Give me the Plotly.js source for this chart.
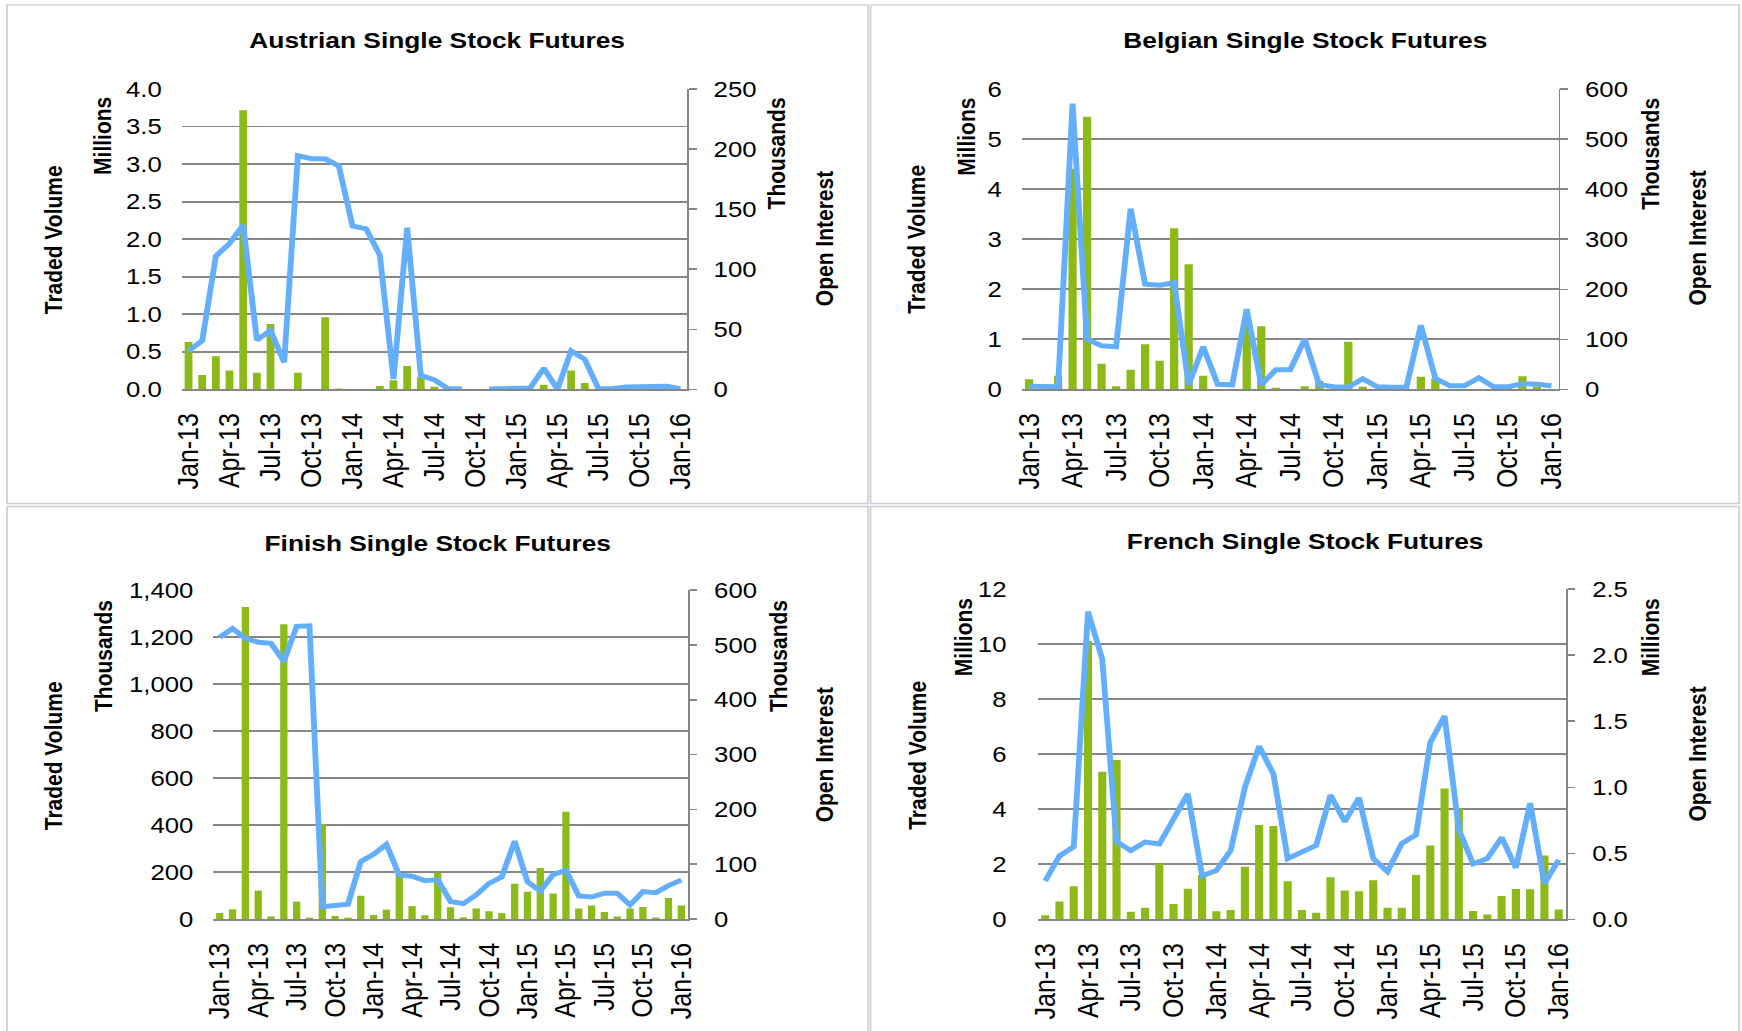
<!DOCTYPE html>
<html><head><meta charset="utf-8">
<script src="https://cdn.plot.ly/plotly-3.0.1.min.js"></script>
<style>
html,body{margin:0;padding:0;background:#fff;overflow:hidden;}
#wrap{width:1742px;height:1031px;overflow:hidden;position:relative;background:#fff;}
#chart{position:absolute;left:0;top:0;transform-origin:0 0;}
</style></head><body>
<div id="wrap"><div id="chart"></div></div>
<script>
// ---- data ----
const months = ['Jan-13','Feb-13','Mar-13','Apr-13','May-13','Jun-13','Jul-13','Aug-13','Sep-13','Oct-13','Nov-13','Dec-13',
  'Jan-14','Feb-14','Mar-14','Apr-14','May-14','Jun-14','Jul-14','Aug-14','Sep-14','Oct-14','Nov-14','Dec-14',
  'Jan-15','Feb-15','Mar-15','Apr-15','May-15','Jun-15','Jul-15','Aug-15','Sep-15','Oct-15','Nov-15','Dec-15','Jan-16'];
const tickLabels = ['Jan-13','Apr-13','Jul-13','Oct-13','Jan-14','Apr-14','Jul-14','Oct-14','Jan-15','Apr-15','Jul-15','Oct-15','Jan-16'];

const panelTitles = ['Austrian Single Stock Futures','Belgian Single Stock Futures','Finish Single Stock Futures','French Single Stock Futures'];

// Austrian: volume in millions, open interest in thousands
const austrianVolume = [0.63,0.19,0.44,0.25,3.72,0.22,0.87,0,0.22,0,0.96,0.01,0,0,0.045,0.12,0.31,0.16,0.035,0,0,0,0,0,0,0,0.06,0,0.25,0.085,0,0,0,0,0,0,0];
const austrianOI = [31.9,40.5,111,121.5,136.8,41,49,22.5,194.5,192,192,186,136,133.7,111.8,8.6,134.5,11.6,7.8,0.5,0.5,null,0.3,0.3,0.5,1,17.5,0,32,25,0.5,0.5,2,2,2.8,2.5,0.5];

// Belgian: volume in millions, open interest in thousands
const belgianVolume = [0.2,0,0.27,4.41,5.45,0.51,0.06,0.39,0.9,0.57,3.22,2.5,0.27,0,0,1.35,1.26,0.03,0,0.06,0.17,0,0.95,0.05,0,0,0,0.25,0.22,0,0,0,0,0.02,0.26,0.05,0];
const belgianOI = [6,5,5,571,100,87,85,361,210,208,213,9,85,10,9,160,9,39,39,100,9,5,4,21,5,4,4,128,22,7,7,23,5,5,11,10,7];

// Finnish: volume in thousands, open interest in thousands
const finnishVolume = [25.5,41,1328,121,11,1255,74,6,404,13,6,99,17,40,195,55,16,197,50,7,45,33,25,150,116,217,109,457,45,58,30,11,45,51,6,89,57];
const finnishOI = [514,530,512,505,503,470,534,535,22.5,25.5,27,104.6,118,136,80,78,70,72,32,28,44,65,77,142,68,51,81,89,42,40,47,47,25.5,50,48,61,71];

// French: volume in millions, open interest in millions
const frenchVolume = [0.145,0.65,1.2,10.12,5.36,5.79,0.27,0.42,2.03,0.56,1.11,1.61,0.29,0.34,1.91,3.43,3.39,1.38,0.34,0.24,1.53,1.05,1.02,1.42,0.42,0.42,1.61,2.68,4.75,4.03,0.30,0.17,0.85,1.10,1.09,2.32,0.36];
const frenchOI = [0.29,0.48,0.55,2.33,1.97,0.59,0.52,0.585,0.57,0.76,0.95,0.33,0.37,0.52,1.00,1.31,1.10,0.46,0.51,0.56,0.94,0.74,0.92,0.46,0.36,0.575,0.64,1.34,1.54,0.68,0.42,0.46,0.62,0.39,0.88,0.27,0.45];

// ---- geometry (picture pixels) ----
const S = 1.17;                 // horizontal stretch of the original picture
const PW = 1742, PH = 1031;
const W = PW / S;
const fx = x => x / PW;
const fy = y => 1 - y / PH;

const FONT = 'Liberation Sans, Arial, Helvetica, sans-serif';
const GRID = '#868686';
const BAR = '#8bba19';
const LINE = '#63affe';

const panels = [
  {x0:181.7, x1:687.2, y0:89, y1:389.3, vol:austrianVolume, oi:austrianOI, lr:[0,4], ld:0.5, lf:'.1f', rr:[0,250], rd:50, rf:'d', lso:16,
   ann:[['Traded Volume',53,240],['Millions',101.7,136],['Thousands',776.5,153.7],['Open Interest',825,239]], tx:437.5, ty:40},
  {x0:1021.7, x1:1558.6, y0:89, y1:389.3, vol:belgianVolume, oi:belgianOI, lr:[0,6], ld:1, lf:'d', rr:[0,600], rd:100, rf:'d', lso:16,
   ann:[['Traded Volume',917,239],['Millions',966,137],['Thousands',1650,153.5],['Open Interest',1697,238]], tx:1305, ty:40},
  {x0:213.3, x1:687.7, y0:590, y1:919, vol:finnishVolume, oi:finnishOI, lr:[0,1400], ld:200, lf:',d', rr:[0,600], rd:100, rf:'d', lso:16,
   ann:[['Traded Volume',53,756],['Thousands',103,656],['Thousands',778,656],['Open Interest',824,755]], tx:437.5, ty:543},
  {x0:1038, x1:1565.7, y0:589, y1:919.3, vol:frenchVolume, oi:frenchOI, lr:[0,12], ld:2, lf:'d', rr:[0,2.5], rd:0.5, rf:'.1f', lso:26,
   ann:[['Traded Volume',917,755],['Millions',963,637],['Millions',1650,637],['Open Interest',1697,754]], tx:1305, ty:541}
];

const data = [];
const layout = {
  width: W, height: PH, margin:{l:0,r:0,t:0,b:0},
  paper_bgcolor:'#ffffff', plot_bgcolor:'rgba(0,0,0,0)',
  showlegend:false, bargap:0.43,
  font:{family:FONT, color:'#000'},
  annotations:[], shapes:[]
};

panels.forEach((p, i) => {
  const n = i + 1;
  const xa = 'x' + (n === 1 ? '' : n);
  const yl = 'y' + (2*n - 1 === 1 ? '' : 2*n - 1);
  const yr = 'y' + (2*n);
  const xKey = 'xaxis' + (n === 1 ? '' : n);
  const ylKey = 'yaxis' + (2*n - 1 === 1 ? '' : 2*n - 1);
  const yrKey = 'yaxis' + (2*n);

  data.push({type:'bar', x:months, y:p.vol, xaxis:xa, yaxis:yl, marker:{color:BAR, line:{width:0}}, hoverinfo:'skip'});
  data.push({type:'scatter', mode:'lines', x:months, y:p.oi, xaxis:xa, yaxis:yr, connectgaps:false,
    line:{color:LINE, width:5}, hoverinfo:'skip'});

  layout[xKey] = {
    domain:[fx(p.x0), fx(p.x1)], anchor:yl, type:'category', range:[-0.5, 36.5],
    tickmode:'array', tickvals:tickLabels, ticktext:tickLabels, tickangle:-90,
    tickfont:{family:FONT, size:25, color:'#000'}, showgrid:false, zeroline:false,
    showline:true, linecolor:GRID, linewidth:1.8, ticks:'', ticklabelstandoff:12, fixedrange:true
  };
  layout[ylKey] = {
    domain:[fy(p.y1), fy(p.y0)], anchor:xa, range:[p.lr[0], p.lr[1]*1.0005], tickmode:'linear', tick0:0, dtick:p.ld,
    tickformat:p.lf, showgrid:true, gridcolor:GRID, gridwidth:1.6, zeroline:false, showline:false, ticks:'',
    tickfont:{family:FONT, size:22, color:'#000'}, ticklabelstandoff:p.lso, fixedrange:true
  };
  layout[yrKey] = {
    overlaying:yl, anchor:xa, side:'right', range:[p.rr[0], p.rr[1]*1.0005], tickmode:'linear', tick0:0, dtick:p.rd,
    tickformat:p.rf, showgrid:false, zeroline:false, showline:true, linecolor:GRID, linewidth:1.5,
    ticks:'outside', ticklen:6.6, tickcolor:GRID, tickwidth:1.5,
    tickfont:{family:FONT, size:22, color:'#000'}, ticklabelstandoff:10, fixedrange:true
  };

  layout.annotations.push({text:'<b>' + panelTitles[i] + '</b>', xref:'paper', yref:'paper', x:fx(p.tx), y:fy(p.ty),
    xanchor:'center', yanchor:'middle', showarrow:false, font:{family:FONT, size:22.5, color:'#000'}});
  p.ann.forEach(a => {
    layout.annotations.push({text:'<b>' + a[0] + '</b>', xref:'paper', yref:'paper', x:fx(a[1]), y:fy(a[2]),
      xanchor:'center', yanchor:'middle', textangle:-90, showarrow:false, font:{family:FONT, size:21, color:'#000'}});
  });
});

// panel borders
const boxes = [[7,5,868,503.5],[870.5,5,1739,503.5],[7,506.5,868,1045],[870.5,506.5,1739,1045]];
boxes.forEach(b => layout.shapes.push({type:'rect', xref:'paper', yref:'paper', x0:fx(b[0]), x1:fx(b[2]), y0:fy(b[3]), y1:fy(b[1]),
  line:{color:'#cfcfd9', width:1.5}, fillcolor:'rgba(0,0,0,0)', layer:'below'}));

const el = document.getElementById('chart');
el.style.transform = 'scaleX(' + S + ')';
Plotly.newPlot(el, data, layout, {staticPlot:true, displayModeBar:false});
</script>
</body></html>
